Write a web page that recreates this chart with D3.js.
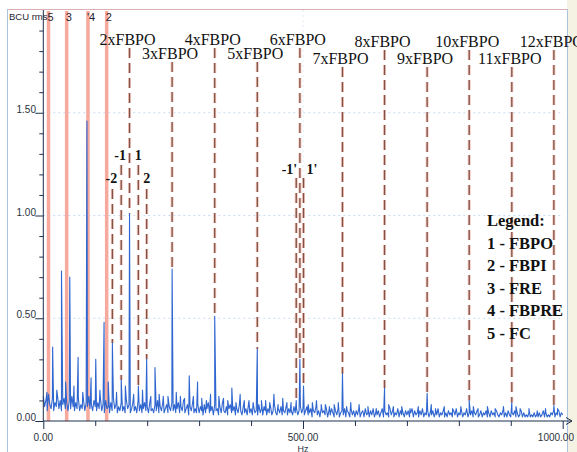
<!DOCTYPE html>
<html>
<head>
<meta charset="utf-8">
<script src="https://cdn.jsdelivr.net/npm/d3@7"></script>
<style>
body { margin: 0; background: #fff; }
svg { display: block; }
</style>
</head>
<body>
<svg id="chart" width="577" height="452"></svg>
<script>
// spectrum noise floor, one value every 2.5 Hz from 0 to 1000 Hz (BCU rms)
const floorStep = 2.5;
const floorAmps = [
  0.12,0.07,0.10,0.05,0.13,0.08,0.06,0.11,0.05,0.09,0.07,0.12,0.06,0.10,0.05,0.08,0.11,0.06,0.09,0.05,
  0.10,0.06,0.12,0.07,0.05,0.09,0.06,0.11,0.05,0.08,0.06,0.10,0.05,0.09,0.07,0.12,0.06,0.08,0.05,0.10,
  0.07,0.05,0.09,0.06,0.11,0.05,0.08,0.04,0.10,0.06,0.07,0.04,0.09,0.05,0.11,0.06,0.08,0.04,0.07,0.05,
  0.09,0.05,0.07,0.04,0.10,0.06,0.08,0.04,0.06,0.09,0.05,0.07,0.04,0.10,0.05,0.08,0.04,0.06,0.09,0.05,
  0.07,0.04,0.09,0.05,0.06,0.04,0.08,0.05,0.10,0.04,0.07,0.05,0.09,0.04,0.06,0.08,0.04,0.07,0.05,0.09,
  0.05,0.08,0.04,0.06,0.09,0.04,0.07,0.05,0.10,0.04,0.06,0.08,0.03,0.07,0.05,0.09,0.04,0.06,0.04,0.08,
  0.04,0.07,0.05,0.03,0.08,0.04,0.06,0.09,0.04,0.05,0.07,0.03,0.08,0.05,0.06,0.03,0.07,0.04,0.09,0.05,
  0.04,0.07,0.03,0.06,0.08,0.04,0.05,0.07,0.03,0.06,0.04,0.08,0.05,0.03,0.07,0.04,0.06,0.03,0.08,0.04,
  0.06,0.03,0.07,0.04,0.05,0.03,0.08,0.04,0.06,0.03,0.07,0.05,0.03,0.06,0.04,0.07,0.03,0.05,0.08,0.04,
  0.03,0.06,0.04,0.07,0.03,0.05,0.04,0.07,0.03,0.06,0.04,0.05,0.03,0.07,0.04,0.06,0.03,0.05,0.07,0.04,
  0.06,0.03,0.05,0.07,0.03,0.04,0.06,0.02,0.05,0.04,0.07,0.03,0.05,0.02,0.06,0.04,0.05,0.03,0.06,0.02,
  0.05,0.03,0.06,0.04,0.02,0.05,0.03,0.06,0.02,0.04,0.05,0.03,0.06,0.02,0.05,0.04,0.02,0.06,0.03,0.05,
  0.02,0.05,0.03,0.06,0.02,0.04,0.05,0.02,0.06,0.03,0.04,0.02,0.05,0.03,0.06,0.02,0.04,0.03,0.05,0.02,
  0.04,0.06,0.02,0.05,0.03,0.04,0.02,0.06,0.03,0.05,0.02,0.04,0.03,0.06,0.02,0.05,0.03,0.04,0.02,0.05,
  0.03,0.05,0.02,0.04,0.06,0.02,0.05,0.03,0.04,0.02,0.05,0.03,0.06,0.02,0.04,0.03,0.05,0.02,0.04,0.03,
  0.05,0.02,0.04,0.03,0.06,0.02,0.04,0.03,0.05,0.02,0.04,0.02,0.05,0.03,0.04,0.02,0.05,0.03,0.06,0.02,
  0.04,0.03,0.05,0.02,0.04,0.03,0.06,0.02,0.04,0.03,0.05,0.02,0.04,0.03,0.05,0.02,0.03,0.05,0.02,0.04,
  0.03,0.05,0.02,0.04,0.02,0.05,0.03,0.04,0.02,0.05,0.03,0.02,0.04,0.03,0.05,0.02,0.04,0.02,0.05,0.03,
  0.02,0.04,0.03,0.05,0.02,0.04,0.02,0.03,0.05,0.02,0.04,0.02,0.03,0.02,0.04,0.02,0.03,0.02,0.04,0.02,
  0.03,0.02,0.04,0.02,0.03,0.05,0.02,0.04,0.02,0.03,0.02,0.04,0.03,0.05,0.02,0.04,0.03,0.05,0.02,0.04,
  0.03
];

// discrete spectral peaks [Hz, BCU rms]
const peaks = [
  [7,0.14],[18,0.36],[26,0.15],[35,0.73],[43,0.19],[51,0.70],[59,0.17],[67,0.31],[76,0.14],
  [84,1.46],[92,0.21],[101,0.30],[109,0.15],[117,0.48],[125,0.19],[133,0.38],[141,0.14],
  [150,0.20],[158,0.17],[166,1.01],[174,0.13],[183,0.17],[191,0.15],[199,0.30],[207,0.12],
  [215,0.26],[223,0.13],[231,0.12],[240,0.12],[248,0.74],[256,0.14],[264,0.12],[272,0.11],
  [281,0.22],[289,0.12],[297,0.19],[305,0.11],[314,0.10],[322,0.13],[330,0.51],[338,0.12],
  [347,0.11],[355,0.10],[363,0.16],[371,0.09],[379,0.13],[387,0.10],[396,0.10],[404,0.09],
  [412,0.35],[420,0.10],[428,0.10],[436,0.09],[444,0.13],[452,0.08],[461,0.11],[469,0.09],
  [477,0.09],[487,0.10],[494,0.30],[501,0.17],[510,0.08],[518,0.09],[526,0.10],[535,0.08],
  [543,0.08],[551,0.07],[560,0.08],[568,0.09],[576,0.23],[584,0.07],[592,0.09],[608,0.08],
  [625,0.07],[641,0.06],[657,0.16],[665,0.08],[674,0.07],[690,0.07],[706,0.06],[722,0.07],
  [739,0.135],[747,0.08],[755,0.06],[772,0.07],[788,0.06],[804,0.07],[820,0.10],[828,0.07],
  [837,0.06],[855,0.07],[870,0.06],[886,0.07],[902,0.09],[910,0.07],[918,0.06],[935,0.06],
  [951,0.05],[967,0.06],[983,0.075],[990,0.06]
];

// numbered markers (solid)
const markerHz = [10, 45, 86, 122];
const markerLabels = ["5", "3", "'4", "2"];

// FBPO harmonics (dashed)
const harmonicHz = [166, 248, 330, 412, 494, 576, 657, 739, 820, 902, 983];
const harmonicLabels = ["2xFBPO","3xFBPO","4xFBPO","5xFBPO","6xFBPO","7xFBPO",
                        "8xFBPO","9xFBPO","10xFBPO","11xFBPO","12xFBPO"];

// sidebands around 2xFBPO and 6xFBPO
const sidebandHz = [133, 150, 183, 199];
const sidebandLabels = ["-2", "-1", "1", "2"];
const primeHz = [487, 501];
const primeLabels = ["-1'", "1'"];

const legendLines = ["Legend:", "1 - FBPO", "2 - FBPI", "3 - FRE", "4 - FBPRE", "5 - FC"];

const yMajor = [0, 0.5, 1.0, 1.5];
const xMajor = [0, 500, 1000];

const svg = d3.select("#chart");

const x = d3.scaleLinear().domain([0, 1000]).range([43.3, 562.7]);
const y = d3.scaleLinear().domain([0, 2]).range([421, 10]);

// background / frame
svg.append("rect").attr("x", 567).attr("y", 0).attr("width", 10).attr("height", 452)
  .attr("fill", "#f6f2e3");
svg.append("rect").attr("x", 7.5).attr("y", 9.5).attr("width", 560).attr("height", 460)
  .attr("fill", "#fff").attr("stroke", "#a9c3e2");
svg.append("line").attr("x1", 8).attr("x2", 567).attr("y1", 9.5).attr("y2", 9.5)
  .attr("stroke", "#e9a8a8").attr("stroke-width", 0.8);

// faint dotted grid
svg.append("g").selectAll("line")
  .data(yMajor.slice(1))
  .join("line")
    .attr("x1", x(0)).attr("x2", x(1000))
    .attr("y1", d => y(d)).attr("y2", d => y(d))
    .attr("stroke", "#c9dcf2").attr("stroke-dasharray", "2,3");
svg.append("line")
  .attr("x1", x(500)).attr("x2", x(500)).attr("y1", y(2)).attr("y2", y(0))
  .attr("stroke", "#e2ecf8").attr("stroke-dasharray", "2,3");

// solid markers
const markers = svg.append("g");
markers.selectAll("line")
  .data(markerHz)
  .join("line")
    .attr("x1", d => x(d)).attr("x2", d => x(d))
    .attr("y1", 11).attr("y2", y(0))
    .attr("stroke", "#f6a99c").attr("stroke-width", 3.5);
markers.selectAll("text")
  .data(markerHz)
  .join("text")
    .attr("x", d => x(d) - 1)
    .attr("y", 21)
    .attr("font-family", "Liberation Sans, Arial, sans-serif")
    .attr("font-size", 11)
    .attr("fill", "#1d2330")
    .text((d, i) => markerLabels[i]);

// amplitude at a frequency: nearest listed peak, else floor
function ampAt(hz) {
  const p = peaks.reduce((a, b) => Math.abs(b[0] - hz) < Math.abs(a[0] - hz) ? b : a);
  if (Math.abs(p[0] - hz) <= 3) return p[1];
  return floorAmps[Math.round(hz / floorStep)];
}

function dashed(g, hz, top) {
  g.append("line")
    .attr("x1", x(hz)).attr("x2", x(hz)).attr("y1", top).attr("y2", y(ampAt(hz)))
    .attr("stroke", "#f4c6bd").attr("stroke-width", 3).attr("stroke-dasharray", "10,5");
  g.append("line")
    .attr("x1", x(hz)).attr("x2", x(hz)).attr("y1", top).attr("y2", y(ampAt(hz)))
    .attr("stroke", "#7f5347").attr("stroke-width", 1.3).attr("stroke-dasharray", "10,5");
}

// harmonic lines and labels
const harm = svg.append("g");
harmonicHz.forEach((hz, i) => {
  const k = i + 2;
  const base = k % 2 === 0 ? (k < 7 ? 45 : 47) : (k < 7 ? 59 : 64);
  dashed(harm, hz, base + 3);
  harm.append("text")
    .attr("x", x(hz) - 2).attr("y", base)
    .attr("text-anchor", "middle")
    .attr("font-family", "Liberation Serif, Times New Roman, serif")
    .attr("font-size", 16)
    .attr("fill", "#111")
    .text(harmonicLabels[i]);
});

// sidebands around 2xFBPO
const side = svg.append("g");
sidebandHz.forEach((hz, i) => {
  const outer = Math.abs(+sidebandLabels[i]) === 2;
  const base = outer ? 183 : 160;
  dashed(side, hz, base + (outer ? 6 : 5));
  side.append("text")
    .attr("x", x(hz) + (sidebandLabels[i][0] === "-" ? -1 : 0)).attr("y", base)
    .attr("text-anchor", "middle")
    .attr("font-family", "Liberation Serif, Times New Roman, serif")
    .attr("font-weight", "bold")
    .attr("font-size", 14)
    .attr("fill", "#111")
    .text(sidebandLabels[i]);
});

// sidebands around 6xFBPO
primeHz.forEach((hz, i) => {
  dashed(side, hz, 178);
  const left = primeLabels[i][0] === "-";
  side.append("text")
    .attr("x", left ? x(hz) + 1 : x(hz) + 3).attr("y", 174)
    .attr("text-anchor", left ? "end" : "start")
    .attr("font-family", "Liberation Serif, Times New Roman, serif")
    .attr("font-weight", "bold")
    .attr("font-size", 14)
    .attr("fill", "#111")
    .text(primeLabels[i]);
});

// spectrum trace
const points = floorAmps.map((a, i) => [i * floorStep, a])
  .concat(peaks)
  .sort((a, b) => a[0] - b[0]);

svg.append("path")
  .datum(points)
  .attr("fill", "none")
  .attr("stroke", "#2f66cf")
  .attr("stroke-width", 1.1)
  .attr("stroke-linejoin", "round")
  .attr("d", d3.line().x(d => x(d[0])).y(d => y(d[1])));

// axes
const axisColor = "#1d2f4a";
const yAxis = svg.append("g").attr("transform", `translate(${x(0)},0)`)
  .call(d3.axisLeft(y).tickValues(d3.range(0, 20).map(d => d / 10)).tickSize(4).tickFormat(""));
yAxis.select(".domain").remove();
yAxis.selectAll("line").attr("stroke", axisColor);
yAxis.selectAll(".tick").filter(d => yMajor.some(m => Math.abs(m - d) < 1e-9))
  .select("line").attr("x2", -8);
svg.append("line").attr("x1", x(0)).attr("x2", x(0)).attr("y1", 10).attr("y2", y(0))
  .attr("stroke", axisColor);

svg.append("g").selectAll("text")
  .data(yMajor)
  .join("text")
    .attr("x", 36).attr("y", d => y(d))
    .attr("text-anchor", "end")
    .attr("font-family", "Liberation Sans, Arial, sans-serif")
    .attr("font-size", 10)
    .attr("fill", "#2b3340")
    .text(d => d.toFixed(2));

const xAxis = svg.append("g").attr("transform", `translate(0,${y(0)})`)
  .call(d3.axisBottom(x).tickValues(d3.range(0, 1001, 100)).tickSize(5).tickFormat(""));
xAxis.select(".domain").remove();
xAxis.selectAll("line").attr("stroke", axisColor);
xAxis.selectAll(".tick").filter(d => xMajor.includes(d)).select("line").attr("y2", 8);
svg.append("line").attr("x1", x(0)).attr("x2", 572).attr("y1", y(0)).attr("y2", y(0))
  .attr("stroke", axisColor);
svg.append("path").attr("d", `M566,${y(0) - 3.5}L572,${y(0)}L566,${y(0) + 3.5}`)
  .attr("fill", "none").attr("stroke", axisColor);

svg.append("g").selectAll("text")
  .data(xMajor)
  .join("text")
    .attr("x", d => d === 1000 ? 574 : x(d))
    .attr("y", 441)
    .attr("text-anchor", d => d === 1000 ? "end" : "middle")
    .attr("font-family", "Liberation Sans, Arial, sans-serif")
    .attr("font-size", 10)
    .attr("fill", "#2b3340")
    .text(d => d.toFixed(2));

svg.append("text")
  .attr("x", x(500)).attr("y", 451.5)
  .attr("text-anchor", "middle")
  .attr("font-family", "Liberation Sans, Arial, sans-serif")
  .attr("font-size", 9)
  .attr("fill", "#2b3340")
  .text("Hz");

svg.append("text")
  .attr("x", 9).attr("y", 20)
  .attr("font-family", "Liberation Sans, Arial, sans-serif")
  .attr("font-size", 9.5)
  .attr("fill", "#1d2330")
  .text("BCU rms");

// legend
svg.append("g").selectAll("text")
  .data(legendLines)
  .join("text")
    .attr("x", 487)
    .attr("y", (d, i) => 226 + i * 22.5)
    .attr("font-family", "Liberation Serif, Times New Roman, serif")
    .attr("font-weight", "bold")
    .attr("font-size", 16.5)
    .attr("fill", "#111")
    .text(d => d);
</script>
</body>
</html>
